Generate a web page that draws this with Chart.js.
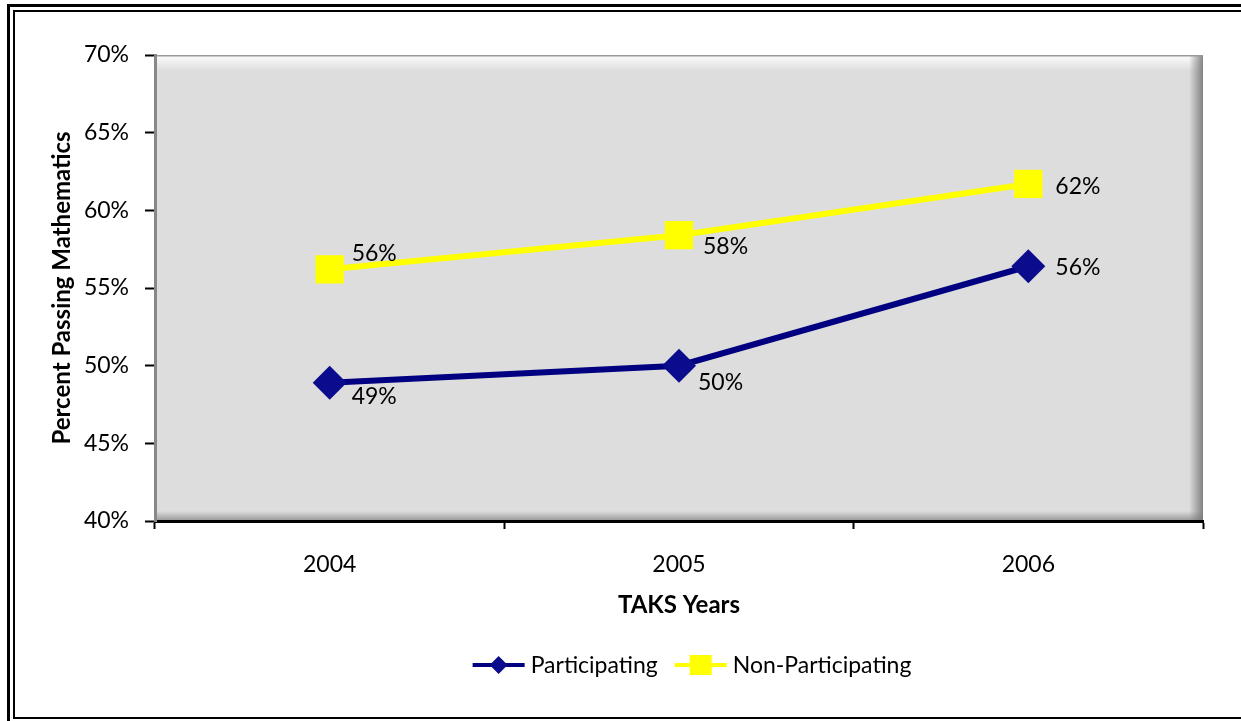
<!DOCTYPE html>
<html>
<head>
<meta charset="utf-8">
<script src="https://cdn.jsdelivr.net/npm/chart.js@4.4.1/dist/chart.umd.min.js"></script>
<style>
  html, body { margin: 0; padding: 0; background: #fff; }
  #wrap { width: 1241px; height: 721px; }
</style>
</head>
<body>
<div id="wrap"><canvas id="myChart" width="1241" height="721"></canvas></div>
<script>
const years = ['2004', '2005', '2006'];
const participating = [48.9, 50.0, 56.4];
const nonParticipating = [56.2, 58.4, 61.7];
const yTicks = [40, 45, 50, 55, 60, 65, 70];

const FONT = 'Lato, "Open Sans", sans-serif';

// frame, plot background with bevel
const backdrop = {
  id: 'backdrop',
  beforeDraw(chart) {
    const c = chart.ctx;
    const a = chart.chartArea;
    c.save();
    c.fillStyle = '#000';
    c.fillRect(7, 4, 1241, 3);
    c.fillRect(7, 4, 3, 721);
    c.fillRect(13, 10, 1241, 2);
    c.fillRect(13, 10, 2, 709);
    c.fillRect(13, 717, 1241, 2);

    c.fillStyle = '#dddddd';
    c.fillRect(a.left, a.top, a.right - a.left, a.bottom - a.top);
    c.beginPath();
    c.rect(a.left, a.top, a.right - a.left, a.bottom - a.top);
    c.clip();
    let g = c.createLinearGradient(0, a.top, 0, a.top + 16);
    g.addColorStop(0, 'rgba(255,255,255,0.95)');
    g.addColorStop(1, 'rgba(255,255,255,0)');
    c.fillStyle = g;
    c.fillRect(a.left, a.top, a.right - a.left, 16);
    g = c.createLinearGradient(a.right - 14, 0, a.right, 0);
    g.addColorStop(0, 'rgba(120,120,120,0)');
    g.addColorStop(1, 'rgba(120,120,120,0.9)');
    c.fillStyle = g;
    c.fillRect(a.right - 14, a.top, 14, a.bottom - a.top);
    g = c.createLinearGradient(0, a.bottom - 10, 0, a.bottom);
    g.addColorStop(0, 'rgba(120,120,120,0)');
    g.addColorStop(1, 'rgba(120,120,120,0.7)');
    c.fillStyle = g;
    c.fillRect(a.left, a.bottom - 10, a.right - a.left, 10);
    c.fillStyle = '#999';
    c.fillRect(a.left, a.top, a.right - a.left, 1.5);
    c.restore();
  }
};

// value labels next to points
const valueLabels = {
  id: 'valueLabels',
  afterDatasetsDraw(chart, args, opts) {
    const c = chart.ctx;
    c.save();
    c.font = '23px ' + FONT;
    c.fillStyle = '#000';
    c.textAlign = 'left';
    c.textBaseline = 'middle';
    chart.data.datasets.forEach((ds, i) => {
      chart.getDatasetMeta(i).data.forEach((pt, j) => {
        const off = opts.offsets[i][j];
        c.fillText(Math.round(ds.data[j]) + '%', pt.x + off[0], pt.y + off[1]);
      });
    });
    c.restore();
  }
};

// legend: line with marker, then text
const lineLegend = {
  id: 'lineLegend',
  afterDraw(chart) {
    const c = chart.ctx;
    const dss = chart.data.datasets;
    c.save();
    c.font = '23px ' + FONT;
    c.textBaseline = 'middle';
    const lineW = 52, gap = 6, space = 17;
    const widths = dss.map(d => lineW + gap + c.measureText(d.label).width);
    const total = widths.reduce((s, w) => s + w, 0) + space * (dss.length - 1);
    let x = 692 - total / 2;
    const y = 665;
    dss.forEach((d, i) => {
      c.strokeStyle = d.borderColor;
      c.lineWidth = 4;
      c.beginPath();
      c.moveTo(x, y);
      c.lineTo(x + lineW, y);
      c.stroke();
      c.fillStyle = d.pointBackgroundColor;
      c.beginPath();
      if (d.pointStyle === 'rectRot') {
        c.moveTo(x + lineW / 2 - 9, y);
        c.lineTo(x + lineW / 2, y - 9);
        c.lineTo(x + lineW / 2 + 9, y);
        c.lineTo(x + lineW / 2, y + 9);
        c.closePath();
      } else {
        c.rect(x + lineW / 2 - 11, y - 10, 22, 20);
      }
      c.fill();
      c.fillStyle = '#000';
      c.fillText(d.label, x + lineW + gap, y + 1);
      x += widths[i] + space;
    });
    c.restore();
  }
};

const ctx = document.getElementById('myChart').getContext('2d');

const chart = new Chart(ctx, {
  type: 'line',
  data: {
    labels: years,
    datasets: [{
      label: 'Participating',
      data: participating,
      borderColor: '#000080',
      borderWidth: 6,
      pointStyle: 'rectRot',
      pointRadius: 17,
      pointBackgroundColor: '#0b0b8e',
      pointBorderWidth: 0,
      tension: 0
    }, {
      label: 'Non-Participating',
      data: nonParticipating,
      borderColor: '#ffff00',
      borderWidth: 6,
      pointStyle: 'rect',
      pointRadius: 20,
      pointBackgroundColor: '#ffff00',
      pointBorderWidth: 0,
      tension: 0
    }]
  },
  options: {
    responsive: false,
    animation: false,
    layout: { padding: { top: 55, right: 38, bottom: 97, left: 44 } },
    plugins: {
      legend: { display: false },
      tooltip: { enabled: false },
      valueLabels: {
        offsets: [
          [[22, 14], [19, 17], [27, 1]],
          [[22, -16], [24, 11], [27, 3]]
        ]
      }
    },
    scales: {
      x: {
        offset: true,
        grid: { offset: true, drawOnChartArea: false, drawTicks: true, tickLength: 8, tickColor: '#000', tickWidth: 2 },
        border: { color: '#000', width: 3 },
        ticks: { color: '#000', padding: 22, font: { family: FONT, size: 23 } },
        title: { display: true, text: 'TAKS Years', color: '#000', font: { family: FONT, size: 24, weight: 'bold' } },
        afterFit(s) { s.height = 103; }
      },
      y: {
        min: 40,
        max: 70,
        afterBuildTicks(s) { s.ticks = yTicks.map(v => ({ value: v })); },
        grid: { drawOnChartArea: false, drawTicks: true, tickLength: 10, tickColor: '#000', tickWidth: 2 },
        border: { color: '#888', width: 3 },
        ticks: { color: '#000', padding: 16, font: { family: FONT, size: 23 }, callback: v => v + '%' },
        title: { display: true, text: 'Percent Passing Mathematics', color: '#000', font: { family: FONT, size: 24, weight: 'bold' } },
        afterFit(s) { s.width = 111; }
      }
    }
  },
  plugins: [backdrop, valueLabels, lineLegend]
});
</script>
</body>
</html>
